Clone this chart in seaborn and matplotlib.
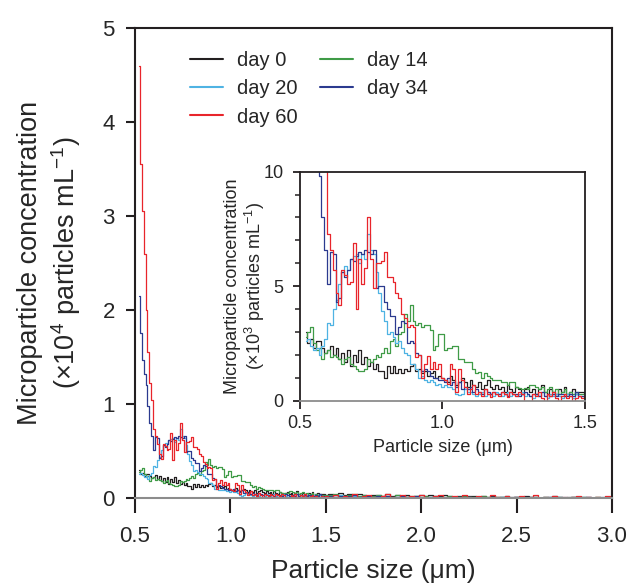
import numpy as np
import pandas as pd
import matplotlib.pyplot as plt
import seaborn as sns
from matplotlib.ticker import MultipleLocator

# particle size grid (um): fine bins up to 1.5, coarser tail to 3.0
size_fine = np.round(np.arange(0.52, 1.5001, 0.01), 3)
size_tail = np.round(np.arange(1.525, 3.0001, 0.025), 3)

# concentration in 10^3 particles/mL
day0 = [3.0, 2.5, 2.7, 2.3, 2.6, 2.6, 2.3, 2.1,
        2.2, 2.4, 2.0, 2.3, 1.8, 2.1, 1.7, 2.2, 1.5, 2.0,
        1.7, 2.2, 1.6, 1.9, 1.5, 1.7, 1.4, 1.6, 1.3, 1.3,
        1.0, 1.5, 1.2, 1.5, 1.2, 1.4, 1.2, 1.4, 1.3, 1.5,
        1.6, 1.3, 1.4, 1.2, 1.3, 1.1, 1.2, 1.3, 1.0, 1.1,
        1.0, 0.9, 0.8, 1.1, 0.9, 0.7, 0.8, 1.0, 0.8, 0.6,
        0.9, 0.7, 0.6, 0.8, 0.5, 0.7, 0.9, 0.6, 0.5, 0.7,
        0.5, 0.6, 0.4, 0.7, 0.5, 0.4, 0.6, 0.5, 0.3, 0.5,
        0.6, 0.4, 0.5, 0.3, 0.5, 0.7, 0.4, 0.3, 0.5, 0.4,
        0.3, 0.5, 0.4, 0.6, 0.3, 0.4, 0.5, 0.3, 0.4, 0.4,
        0.3]
day14 = [2.8, 3.0, 3.2, 2.5, 2.2, 2.3, 1.8, 2.1,
         2.2, 1.9, 2.0, 1.9, 1.8, 1.6, 1.8, 1.9, 1.6, 1.5,
         1.4, 1.3, 1.3, 1.4, 1.8, 1.7, 1.8, 2.0, 1.9, 2.1,
         2.3, 2.1, 2.6, 2.7, 2.4, 2.9, 3.0, 3.8, 3.5, 4.2,
         3.5, 3.3, 3.4, 3.2, 3.3, 3.3, 3.1, 2.2, 2.4, 2.9,
         2.9, 2.2, 2.3, 2.3, 2.4, 2.4, 1.8, 1.8, 1.7, 1.7,
         1.7, 1.4, 1.2, 1.25, 1.0, 1.2, 1.1, 1.0, 0.9, 0.9,
         0.9, 0.8, 0.8, 0.7, 0.8, 0.8, 0.6, 0.55, 0.5, 0.55,
         0.5, 0.7, 0.7, 0.6, 0.5, 0.6, 0.4, 0.5, 0.6, 0.4,
         0.5, 0.3, 0.4, 0.5, 0.3, 0.4, 0.3, 0.4, 0.3, 0.3,
         0.3]
day20 = [2.6, 2.7, 2.4, 2.2, 2.3, 2.0, 2.4, 2.7,
         3.4, 3.3, 4.0, 4.4, 5.1, 5.6, 5.9, 5.7, 6.2, 6.3,
         6.4, 6.0, 6.4, 6.2, 7.3, 6.6, 6.4, 5.6, 4.7, 3.9,
         3.5, 2.9, 3.0, 2.8, 2.5, 2.6, 2.3, 2.1, 2.0, 1.6,
         1.6, 1.4, 1.0, 1.1, 0.9, 0.8, 0.9, 0.8, 0.7, 0.75,
         0.6, 0.7, 0.6, 0.6, 0.5, 0.3, 0.25, 0.3, 0.5, 0.4,
         0.4, 0.3, 0.2, 0.3, 0.4, 0.2, 0.3, 0.3, 0.2, 0.4,
         0.3, 0.2, 0.3, 0.4, 0.2, 0.3, 0.2, 0.3, 0.4, 0.2,
         0.3, 0.2, 0.1, 0.3, 0.2, 0.4, 0.2, 0.1, 0.3, 0.2,
         0.3, 0.2, 0.1, 0.2, 0.3, 0.2, 0.1, 0.3, 0.2, 0.2,
         0.2]
day34 = [21.5, 17.6, 14.7, 13.2, 12.0, 9.8, 8.0, 6.6,
         5.1, 6.5, 6.4, 4.3, 4.5, 5.6, 5.4, 5.7, 6.2, 6.1,
         6.3, 6.5, 6.4, 6.6, 6.5, 6.4, 6.6, 4.9, 5.0, 5.0,
         4.3, 4.0, 3.7, 3.7, 2.9, 3.2, 3.5, 3.4, 2.5, 2.6,
         2.5, 2.1, 2.0, 1.3, 1.4, 1.3, 1.1, 1.0, 1.0, 0.9,
         0.9, 0.8, 1.0, 0.7, 0.8, 0.6, 0.8, 0.5, 0.6, 0.5,
         0.6, 0.4, 0.5, 0.4, 0.3, 0.5, 0.4, 0.3, 0.4, 0.3,
         0.3, 0.4, 0.3, 0.2, 0.4, 0.3, 0.3, 0.2, 0.3, 0.4,
         0.3, 0.2, 0.3, 0.3, 0.2, 0.4, 0.2, 0.3, 0.2, 0.3,
         0.2, 0.3, 0.3, 0.2, 0.2, 0.3, 0.2, 0.4, 0.2, 0.2,
         0.2]
day60 = [46.0, 35.5, 30.5, 26.0, 20.0, 15.5, 12.2, 10.4,
         7.3, 6.6, 5.7, 4.7, 4.2, 5.7, 5.5, 5.1, 5.2, 6.9,
         4.0, 6.2, 5.1, 5.8, 8.0, 6.2, 4.9, 6.0, 6.0, 6.1,
         6.5, 5.4, 5.4, 5.2, 4.7, 4.5, 3.8, 3.6, 3.2, 3.3,
         3.2, 1.9, 2.0, 1.0, 1.6, 1.95, 1.4, 1.7, 1.4, 1.6,
         1.0, 0.9, 0.75, 1.6, 1.4, 0.4, 1.4, 0.9, 0.6, 0.3,
         0.5, 0.7, 0.3, 0.4, 0.2, 0.5, 0.3, 0.15, 0.4, 0.3,
         0.2, 0.4, 0.3, 0.15, 0.4, 0.3, 0.2, 0.4, 0.3, 0.0,
         0.0, 0.0, 0.3, 0.2, 0.4, 0.1, 0.0, 0.3, 0.2, 0.4,
         0.1, 0.0, 0.2, 0.3, 0.1, 0.2, 0.0, 0.1, 0.2, 0.1,
         0.2]

tail_day0 = [0.4, 0.3, 0.5, 0.3, 0.4, 0.2, 0.4, 0.3, 0.2, 0.3,
             0.3, 0.2, 0.4, 0.2, 0.3, 0.2, 0.3, 0.1, 0.2, 0.3,
             0.2, 0.3, 0.1, 0.2, 0.3, 0.2, 0.1, 0.2, 0.1, 0.2,
             0.2, 0.1, 0.2, 0.1, 0.2, 0.1, 0.1, 0.2, 0.1, 0.1,
             0.1, 0.2, 0.1, 0.1, 0.0, 0.1, 0.1, 0.2, 0.1, 0.0,
             0.1, 0.1, 0.0, 0.1, 0.1, 0.0, 0.1, 0.0, 0.1, 0.0]
tail_day14 = [0.3, 0.4, 0.3, 0.2, 0.3, 0.4, 0.2, 0.3, 0.2, 0.2,
              0.3, 0.2, 0.2, 0.1, 0.3, 0.2, 0.1, 0.2, 0.2, 0.1,
              0.2, 0.1, 0.2, 0.1, 0.1, 0.2, 0.1, 0.1, 0.2, 0.1,
              0.1, 0.1, 0.2, 0.1, 0.0, 0.1, 0.1, 0.1, 0.0, 0.1,
              0.1, 0.0, 0.1, 0.1, 0.0, 0.1, 0.0, 0.1, 0.1, 0.0,
              0.0, 0.1, 0.0, 0.1, 0.0, 0.0, 0.1, 0.0, 0.0, 0.1]
tail_day20 = [0.2, 0.1, 0.3, 0.2, 0.1, 0.2, 0.1, 0.2, 0.1, 0.1,
              0.2, 0.1, 0.1, 0.0, 0.1, 0.2, 0.1, 0.0, 0.1, 0.1,
              0.0, 0.1, 0.1, 0.0, 0.1, 0.0, 0.1, 0.1, 0.0, 0.1,
              0.0, 0.1, 0.0, 0.0, 0.1, 0.0, 0.1, 0.0, 0.0, 0.1,
              0.0, 0.0, 0.1, 0.0, 0.0, 0.1, 0.0, 0.0, 0.0, 0.1,
              0.0, 0.0, 0.0, 0.1, 0.0, 0.0, 0.0, 0.0, 0.1, 0.0]
tail_day34 = [0.2, 0.3, 0.2, 0.1, 0.2, 0.3, 0.1, 0.2, 0.2, 0.1,
              0.2, 0.1, 0.2, 0.1, 0.1, 0.2, 0.1, 0.1, 0.2, 0.0,
              0.1, 0.1, 0.2, 0.1, 0.0, 0.1, 0.1, 0.0, 0.1, 0.1,
              0.0, 0.1, 0.1, 0.0, 0.1, 0.0, 0.1, 0.1, 0.0, 0.1,
              0.0, 0.1, 0.0, 0.1, 0.0, 0.0, 0.1, 0.0, 0.1, 0.0,
              0.0, 0.1, 0.0, 0.0, 0.1, 0.0, 0.0, 0.1, 0.0, 0.0]
tail_day60 = [0.1, 0.3, 0.0, 0.2, 0.1, 0.4, 0.0, 0.2, 0.3, 0.1,
              0.0, 0.2, 0.4, 0.1, 0.0, 0.3, 0.1, 0.2, 0.0, 0.3,
              0.1, 0.0, 0.2, 0.3, 0.0, 0.1, 0.2, 0.0, 0.3, 0.1,
              0.0, 0.2, 0.1, 0.0, 0.3, 0.1, 0.0, 0.2, 0.0, 0.1,
              0.2, 0.0, 0.1, 0.3, 0.0, 0.1, 0.0, 0.2, 0.0, 0.1,
              0.0, 0.1, 0.2, 0.0, 0.1, 0.0, 0.1, 0.0, 0.2, 0.0]

days = ["day 0", "day 14", "day 20", "day 34", "day 60"]
colors = {"day 0": "#231f20", "day 14": "#3f9b47", "day 20": "#4fb3e3",
          "day 34": "#2b3a8f", "day 60": "#e8252b"}
legend_order = ["day 0", "day 20", "day 60", "day 14", "day 34"]

series = {"day 0": (day0, tail_day0), "day 14": (day14, tail_day14),
          "day 20": (day20, tail_day20), "day 34": (day34, tail_day34),
          "day 60": (day60, tail_day60)}

rows = []
for d in days:
    fine, tail = series[d]
    sizes = np.concatenate([size_fine, size_tail])
    vals = np.concatenate([fine, tail])
    rows.append(pd.DataFrame({"size": sizes, "conc": vals, "day": d}))
df = pd.concat(rows, ignore_index=True)
df["conc_main"] = df["conc"] / 10  # 10^4 units for the big panel

sns.set_theme(style="ticks")
plt.rcParams["font.family"] = ["Liberation Sans", "DejaVu Sans"]
plt.rcParams["mathtext.fontset"] = "custom"
plt.rcParams["mathtext.rm"] = "Liberation Sans"
plt.rcParams["mathtext.it"] = "Liberation Sans:italic"

fig = plt.figure(figsize=(6.36, 5.86), dpi=100)

# main panel
ax = fig.add_axes([0.2123, 0.1502, 0.75, 0.802])
sns.lineplot(data=df, x="size", y="conc_main", hue="day", hue_order=days,
             palette=colors, drawstyle="steps-mid", linewidth=0.9,
             errorbar=None, ax=ax)
ax.set_xlim(0.5, 3.0)
ax.set_ylim(0, 5)
ax.set_xticks([0.5, 1.0, 1.5, 2.0, 2.5, 3.0])
ax.set_yticks([0, 1, 2, 3, 4, 5])
ax.set_xlabel("Particle size (\u03bcm)", fontsize=19, labelpad=8)
ax.set_ylabel("Microparticle concentration\n(\u00d710$^4$ particles mL$^{-1}$)",
              fontsize=19.5, labelpad=14, linespacing=1.25)
ax.tick_params(axis="x", length=10.5, width=1.5, pad=10, labelsize=16, color="#231f20")
ax.tick_params(axis="y", length=6.5, width=1.5, pad=8, labelsize=16, color="#231f20")
for s in ["left", "top", "right"]:
    ax.spines[s].set_linewidth(1.5)
    ax.spines[s].set_color("#231f20")
ax.spines["bottom"].set_linewidth(1.5)
ax.spines["bottom"].set_color("#8c8c8c")

handles, labels = ax.get_legend_handles_labels()
hmap = dict(zip(labels, handles))
for h in hmap.values():
    h.set_linewidth(1.5)
ax.legend([hmap[l] for l in legend_order], legend_order, ncol=2,
          loc="upper left", bbox_to_anchor=(0.115, 0.952), frameon=False,
          fontsize=14.5, handlelength=1.65, handletextpad=0.7,
          columnspacing=1.1, labelspacing=0.47, borderaxespad=0, borderpad=0)

# inset panel
axi = fig.add_axes([0.4717, 0.3162, 0.4481, 0.3908])
sns.lineplot(data=df, x="size", y="conc", hue="day", hue_order=days,
             palette=colors, drawstyle="steps-mid", linewidth=0.9,
             errorbar=None, legend=False, ax=axi)
axi.set_xlim(0.5, 1.5)
axi.set_ylim(0, 10)
axi.set_xticks([0.5, 1.0, 1.5])
axi.set_yticks([0, 5, 10])
axi.yaxis.set_minor_locator(MultipleLocator(1))
axi.set_xlabel("Particle size (\u03bcm)", fontsize=13, labelpad=5)
axi.set_ylabel("Microparticle concentration\n(\u00d710$^3$ particles mL$^{-1}$)",
               fontsize=13, labelpad=-3, linespacing=1.1)
axi.tick_params(axis="x", length=6, width=1.3, pad=4, labelsize=13, color="#231f20")
axi.tick_params(axis="y", which="major", length=5, width=1.3, pad=7, labelsize=13, color="#231f20")
axi.tick_params(axis="y", which="minor", length=3.5, width=1.1, color="#231f20")
for s in ["left", "top", "right"]:
    axi.spines[s].set_linewidth(1.3)
    axi.spines[s].set_color("#231f20")
axi.spines["bottom"].set_linewidth(1.3)
axi.spines["bottom"].set_color("#8c8c8c")

fig.savefig("out.png", dpi=100)
